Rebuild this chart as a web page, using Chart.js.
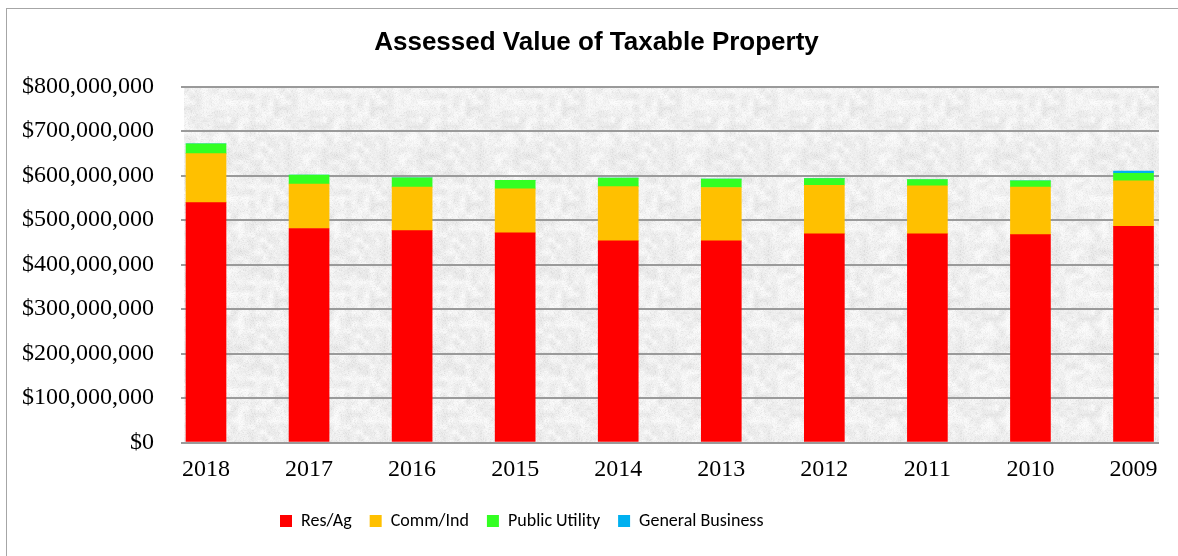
<!DOCTYPE html>
<html>
<head>
<meta charset="utf-8">
<script src="https://cdn.jsdelivr.net/npm/chart.js@4.4.1/dist/chart.umd.min.js"></script>
<style>
  html, body { margin: 0; padding: 0; background: #fff; }
  #wrap { width: 1178px; height: 556px; position: relative; overflow: hidden; }
  canvas { display: block; }
</style>
</head>
<body>
<div id="wrap"><canvas id="c" width="1178" height="556"></canvas></div>
<script>
// ---- Data ----
const categories = ['2018', '2017', '2016', '2015', '2014', '2013', '2012', '2011', '2010', '2009'];
const resAg      = [539e6, 481e6, 476e6, 471e6, 453e6, 453e6, 469e6, 469e6, 467e6, 486e6];
const commInd    = [110e6, 100e6,  98e6,  99e6, 122e6, 120e6, 109e6, 108e6, 107e6, 102e6];
const publicUtil = [ 22e6,  20e6,  21e6,  19e6,  19e6,  19e6,  15e6,  14e6,  14e6,  17e6];
const genBusiness= [    0,     0,     0,     0,     0,     0,     0,     0,     0,   5e6];
const yTicks     = [0, 100e6, 200e6, 300e6, 400e6, 500e6, 600e6, 700e6, 800e6];
const seriesNames = ['Res/Ag', 'Comm/Ind', 'Public Utility', 'General Business'];

// ---- Texture for plot background ----
function makeTexture() {
  const S = 96, cell = 6, n = S / cell;
  const c = document.createElement('canvas'); c.width = S; c.height = S;
  const g = c.getContext('2d');
  const img = g.createImageData(S, S);
  const h = (x, y) => { const s = Math.sin(x * 127.1 + y * 311.7) * 43758.5453; return s - Math.floor(s); };
  const lerp = (a, b, t) => a + (b - a) * t;
  for (let y = 0; y < S; y++) {
    for (let x = 0; x < S; x++) {
      const gx = x / cell, gy = y / cell;
      const x0 = Math.floor(gx), y0 = Math.floor(gy);
      const tx = gx - x0, ty = gy - y0;
      const sx = tx * tx * (3 - 2 * tx), sy = ty * ty * (3 - 2 * ty);
      const v00 = h(x0 % n, y0 % n), v10 = h((x0 + 1) % n, y0 % n);
      const v01 = h(x0 % n, (y0 + 1) % n), v11 = h((x0 + 1) % n, (y0 + 1) % n);
      const low = lerp(lerp(v00, v10, sx), lerp(v01, v11, sx), sy);
      const fine = h(x + 1000, y + 2000);
      let v = 240 + (low - 0.5) * 18 + (fine - 0.5) * 12;
      if (fine > 0.95) v -= 18;
      v = Math.max(190, Math.min(252, v));
      const i = (y * S + x) * 4;
      img.data[i] = img.data[i + 1] = img.data[i + 2] = v;
      img.data[i + 3] = 255;
    }
  }
  g.putImageData(img, 0, 0);
  return c;
}
const texCanvas = makeTexture();

const bgPlugin = {
  id: 'bgPlugin',
  beforeDraw(chart) {
    const { ctx, chartArea: a } = chart;
    ctx.save();
    ctx.fillStyle = '#ffffff';
    ctx.fillRect(0, 0, chart.width, chart.height);
    ctx.fillStyle = ctx.createPattern(texCanvas, 'repeat');
    ctx.fillRect(a.left + 3, a.top, a.right - a.left - 3, a.bottom - a.top);
    ctx.strokeStyle = '#a6a6a6';
    ctx.lineWidth = 1;
    ctx.strokeRect(6.5, 8.5, 1400, 800);
    ctx.restore();
  },
  afterLayout(chart) {
    if (chart.titleBlock) { chart.titleBlock.left = 34; }
    if (chart.legend) { chart.legend.left = 280 - chart.legend.options.labels.padding; }
  }
};

const toPoints = arr => arr.map((v, i) => ({ x: i, y: v }));
const colors = ['#FF0000', '#FFC000', '#33FF22', '#00B0F0'];
const seriesData = [resAg, commInd, publicUtil, genBusiness];

new Chart(document.getElementById('c'), {
  type: 'bar',
  data: {
    datasets: seriesData.map((arr, k) => ({
      label: seriesNames[k],
      data: toPoints(arr),
      backgroundColor: colors[k],
      borderWidth: 0,
      barThickness: 40
    }))
  },
  options: {
    responsive: false,
    animation: false,
    devicePixelRatio: 1,
    layout: { padding: { top: 0, left: 0, right: 19, bottom: 16 } },
    scales: {
      x: {
        type: 'linear',
        stacked: true,
        offset: false,
        min: -0.2426,
        max: 9.2474,
        grid: { display: false, drawTicks: false, offset: false },
        border: { display: false },
        ticks: {
          stepSize: 1,
          includeBounds: false,
          autoSkip: false,
          maxRotation: 0,
          padding: 13,
          color: '#000',
          font: { family: "'Liberation Serif', 'Times New Roman', serif", size: 24 },
          callback: v => (Number.isInteger(v) && categories[v] !== undefined) ? categories[v] : ''
        },
        afterFit(scale) { scale.height = 51.5; }
      },
      y: {
        stacked: true,
        min: 0,
        max: 800e6,
        grid: { color: '#9a9a9a', lineWidth: 2, drawTicks: false },
        border: { display: false },
        afterBuildTicks(scale) { scale.ticks = yTicks.map(v => ({ value: v })); },
        ticks: {
          padding: 27,
          color: '#000',
          font: { family: "'Liberation Serif', 'Times New Roman', serif", size: 24 },
          callback: v => '$' + Number(v).toLocaleString('en-US')
        },
        afterFit(scale) { scale.width = 181; }
      }
    },
    plugins: {
      title: {
        display: true,
        text: 'Assessed Value of Taxable Property',
        color: '#000',
        font: { family: "'Liberation Sans', Arial, sans-serif", size: 26, weight: 'bold', lineHeight: 1.2 },
        padding: { top: 27.4, bottom: 27.9 }
      },
      legend: {
        position: 'bottom',
        align: 'start',
        labels: {
          boxWidth: 12,
          boxHeight: 12,
          padding: 18,
          color: '#000',
          font: { family: "Carlito, Calibri, Lato, sans-serif", size: 18 }
        }
      },
      tooltip: { enabled: false }
    }
  },
  plugins: [bgPlugin]
});
</script>
</body>
</html>
